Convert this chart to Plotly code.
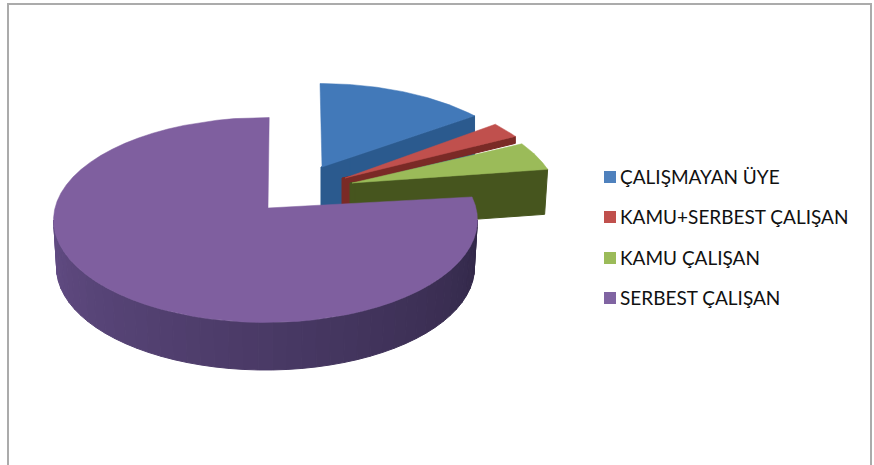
import math
import plotly.graph_objects as go

categories = ["ÇALIŞMAYAN ÜYE", "KAMU+SERBEST ÇALIŞAN", "KAMU ÇALIŞAN", "SERBEST ÇALIŞAN"]
values = [13.0, 2.5, 4.5, 80.0]

top_colors = ["#4279B9", "#C0504D", "#9BBB59", "#7F5F9F"]
wall_colors = ["#2B5A8E", "#7A2A26", "#46551E", "#4A3766"]
legend_colors = ["#4F81BD", "#C0504D", "#9BBB59", "#8064A2"]

# drawing geometry (pixel-based axes)
RX, RY, DEPTH = 212.0, 102.5, 47.5
centres = [(320, 186), (340, 194), (346, 201), (265.5, 220)]
apex_off = [(2, -19), (5, -16), (6, -18), (2.5, -12)]
start_shift = [0, 0, 0, 5]
end_shift = [0, 0, 0, 1]
wall_depth = [40, 7, 45, DEPTH]
wall_taper = [0, 0, 3, 0]
tip_face = [(-1, 28), (-3, 6), (-2, 3)]


def pt(c, theta, rx=RX, ry=RY, dy=0):
    t = math.radians(theta)
    return c[0] + rx * math.sin(t), c[1] - ry * math.cos(t) + dy


def arc(c, a, b, n=60, **kw):
    return [pt(c, a + (b - a) * i / n, **kw) for i in range(n + 1)]


def poly(points, color, line=1.0):
    xs = [p[0] for p in points] + [points[0][0]]
    ys = [p[1] for p in points] + [points[0][1]]
    return go.Scatter(x=xs, y=ys, mode="lines", fill="toself", fillcolor=color,
                      line=dict(color=color, width=line), hoverinfo="skip", showlegend=False)


total = sum(values)
angles = [0.0]
for v in values:
    angles.append(angles[-1] + 360.0 * v / total)

fig = go.Figure()

for i in range(4):
    c = centres[i]
    a0, a1 = angles[i] + start_shift[i], angles[i + 1] + end_shift[i]
    apex = (c[0] + apex_off[i][0], c[1] + apex_off[i][1])
    if i < 3:
        end = pt(c, a1)
        d = wall_depth[i]
        fig.add_trace(poly([apex, end, (end[0] - wall_taper[i], end[1] + d), (apex[0], apex[1] + d)], wall_colors[i]))
        # short vertical face at the slice's inner tip
        lo, hi = tip_face[i]
        fig.add_trace(poly([(apex[0] + lo, apex[1]), (apex[0] + lo, apex[1] + 45),
                            (apex[0] + hi, apex[1] + 45), (apex[0] + hi, apex[1] - hi * 0.3)], wall_colors[i]))
    else:
        # outer wall of the large slice, shaded around its rim
        segs = 45
        for s in range(segs):
            f0, f1 = s / segs, (s + 1) / segs
            t0, t1 = 270 - 180 * f0, 270 - 180 * f1
            p = [pt(c, t0), pt(c, t1),
                 pt(c, t1, rx=RX - 3, dy=DEPTH), pt(c, t0, rx=RX - 3, dy=DEPTH)]
            m = (f0 + f1) / 2
            shade = (int(98 - 48 * m), int(76 - 36 * m), int(132 - 60 * m))
            fig.add_trace(poly(p, "rgb(%d,%d,%d)" % shade))
    fig.add_trace(poly([apex] + arc(c, a0, a1), top_colors[i], line=0.5))

# legend
leg_x = 610
leg_y = [177, 217, 258, 298]
fig.add_trace(go.Scatter(x=[leg_x] * 4, y=leg_y, mode="markers",
                         marker=dict(symbol="square", size=12, color=legend_colors),
                         hoverinfo="skip", showlegend=False))
fig.add_trace(go.Scatter(x=[leg_x + 10] * 4, y=[y + 2 for y in leg_y], mode="text", text=categories,
                         textposition="middle right",
                         textfont=dict(family="Lato", size=19, color="#111111"),
                         hoverinfo="skip", showlegend=False, cliponaxis=False))

fig.update_layout(
    width=874, height=465, autosize=False,
    margin=dict(l=0, r=0, t=0, b=0),
    paper_bgcolor="white", plot_bgcolor="white", showlegend=False,
    xaxis=dict(range=[0, 874], visible=False, fixedrange=True),
    yaxis=dict(range=[465, 0], visible=False, fixedrange=True),
    shapes=[dict(type="rect", xref="x", yref="y", x0=8, x1=871, y0=4, y1=480,
                 line=dict(color="#ABABAB", width=2), fillcolor="rgba(0,0,0,0)", layer="below")],
)
fig.write_html("out.html", config={"displayModeBar": False},
               post_script="document.body.style.margin='0';document.body.style.overflow='hidden';")
